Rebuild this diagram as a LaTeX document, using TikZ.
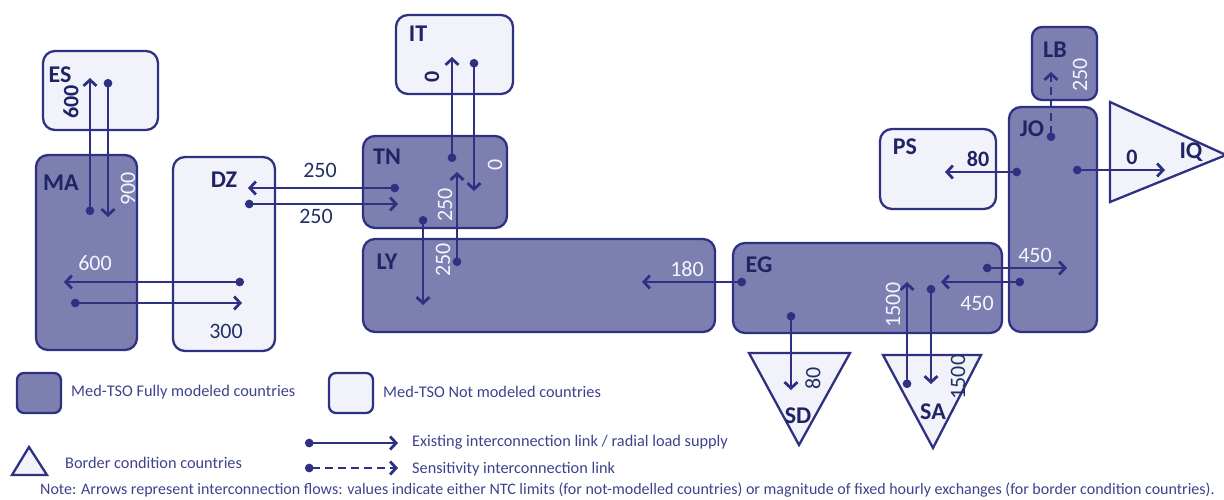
\documentclass[tikz,border=0pt]{standalone}
\usepackage{fontspec}
\setmainfont{Carlito}
\usetikzlibrary{arrows.meta}
\definecolor{navy}{RGB}{46,48,130}
\definecolor{darkfill}{RGB}{124,127,176}
\definecolor{lightfill}{RGB}{242,243,250}
\definecolor{lbl}{RGB}{32,35,100}
\definecolor{numdark}{RGB}{35,48,100}
\definecolor{numwhite}{RGB}{245,245,252}
\definecolor{legtext}{RGB}{62,66,140}
\begin{document}
\begin{tikzpicture}[x=1pt,y=-1pt,
  fullbox/.style={draw=navy, line width=2.3pt, fill=darkfill, rounded corners=12pt, inner sep=0pt},
  notbox/.style={draw=navy, line width=2.3pt, fill=lightfill, rounded corners=12pt, inner sep=0pt},
  border/.style={draw=navy, line width=2.3pt, fill=lightfill, line join=miter},
  cname/.style={font=\fontsize{24}{26}\selectfont\bfseries, text=lbl, inner sep=0pt},
  wnum/.style={font=\fontsize{22}{24}\selectfont, text=numwhite, inner sep=0pt},
  dnum/.style={font=\fontsize{22}{24}\selectfont, text=numdark, inner sep=0pt},
  bnum/.style={font=\fontsize{22}{24}\selectfont\bfseries, text=lbl, inner sep=0pt},
  link/.style={draw=navy, line width=2.8pt, {Circle[length=8.5pt]}-{Straight Barb[length=6pt,width=13pt,line width=2.8pt]}},
  senslink/.style={link, dash pattern=on 8pt off 5pt},
  legtxt/.style={font=\fontsize{16.3}{18}\selectfont, text=legtext, inner sep=0pt, anchor=west},
  notetxt/.style={font=\fontsize{16}{18}\selectfont, text=legtext, inner sep=0pt, anchor=west}
]
\useasboundingbox (0,0) rectangle (1224,499);

% ---------- boxes ----------
\node[notbox, minimum width=115pt, minimum height=79pt] (ES) at (100.5,90.5) {};
\node[fullbox, minimum width=101pt, minimum height=195pt] (MA) at (86.5,252.5) {};
\node[notbox, minimum width=102pt, minimum height=194pt] (DZ) at (224,254) {};
\node[notbox, minimum width=117pt, minimum height=79pt] (IT) at (454.5,54.5) {};
\node[fullbox, minimum width=144pt, minimum height=92pt] (TN) at (435,182) {};
\node[fullbox, minimum width=352pt, minimum height=93pt] (LY) at (539,285.5) {};
\node[fullbox, minimum width=269pt, minimum height=90pt] (EG) at (867.5,288) {};
\node[fullbox, minimum width=88pt, minimum height=225pt] (JO) at (1053,219.5) {};
\node[fullbox, minimum width=65pt, minimum height=73pt, rounded corners=10pt] (LB) at (1064.5,63.5) {};
\node[notbox, minimum width=116pt, minimum height=80pt] (PS) at (938,169) {};

% ---------- border condition triangles ----------
\draw[border] (1110,102) -- (1226,155) -- (1110,202) -- cycle;
\draw[border] (749,353) -- (850,353) -- (799,445) -- cycle;
\draw[border] (883,355) -- (981,355) -- (933,448) -- cycle;

% ---------- country names ----------
\node[cname] (ESl) at (60,75) {ES};
\node[cname] (MAl) at (61,183) {MA};
\node[cname] (DZl) at (224,180) {DZ};
\node[cname] (ITl) at (418,34) {IT};
\node[cname] (TNl) at (387,157) {TN};
\node[cname] (LYl) at (387,262) {LY};
\node[cname] (EGl) at (759,265) {EG};
\node[cname] (JOl) at (1032,129) {JO};
\node[cname] (LBl) at (1055,50) {LB};
\node[cname] (PSl) at (905,147) {PS};
\node[cname] (IQl) at (1191,152) {IQ};
\node[cname] (SDl) at (798,416) {SD};
\node[cname] (SAl) at (933,412) {SA};

% ---------- connector end points ----------
\coordinate (maES) at (90,215);   \coordinate (esTip) at (90,78);
\coordinate (esMA) at (108,79);   \coordinate (maTip) at (108,217);
\coordinate (tnDZ) at (399,188);  \coordinate (dzTip) at (248,188);
\coordinate (dzTN) at (245,204);  \coordinate (tnTip) at (398,204);
\coordinate (dzMA) at (244,282);  \coordinate (maTip2) at (64,282);
\coordinate (maDZ) at (71,303);   \coordinate (dzTip2) at (242,303);
\coordinate (tnIT) at (452,162);  \coordinate (itTip) at (452,57);
\coordinate (itTN) at (474,59);   \coordinate (tnTip2) at (474,191);
\coordinate (tnLY) at (423,216);  \coordinate (lyTip) at (423,305);
\coordinate (lyTN) at (457,266);  \coordinate (tnTip3) at (457,172);
\coordinate (egLY) at (746,282);  \coordinate (lyTip2) at (642,282);
\coordinate (joLB) at (1051,141); \coordinate (lbTip) at (1051,72);
\coordinate (joPS) at (1021,172); \coordinate (psTip) at (945,172);
\coordinate (joIQ) at (1073,170); \coordinate (iqTip) at (1165,170);
\coordinate (egJO) at (983,268);  \coordinate (joTip) at (1067,268);
\coordinate (joEG) at (1024,282); \coordinate (egTip) at (941,282);
\coordinate (saEG) at (907,388);  \coordinate (egTip2) at (907,282);
\coordinate (egSA) at (931,285);  \coordinate (saTip) at (931,384);
\coordinate (egSD) at (791,312);  \coordinate (sdTip) at (791,390);

% ---------- connectors ----------
\draw[link] (maES) -- (esTip);
\draw[link] (esMA) -- (maTip);
\draw[link] (tnDZ) -- (dzTip);
\draw[link] (dzTN) -- (tnTip);
\draw[link] (dzMA) -- (maTip2);
\draw[link] (maDZ) -- (dzTip2);
\draw[link] (tnIT) -- (itTip);
\draw[link] (itTN) -- (tnTip2);
\draw[link] (tnLY) -- (lyTip);
\draw[link] (lyTN) -- (tnTip3);
\draw[link] (egLY) -- (lyTip2);
\draw[senslink] (joLB) -- (lbTip);
\draw[link] (joPS) -- (psTip);
\draw[link] (joIQ) -- (iqTip);
\draw[link] (egJO) -- (joTip);
\draw[link] (joEG) -- (egTip);
\draw[link] (saEG) -- (egTip2);
\draw[link] (egSA) -- (saTip);
\draw[link] (egSD) -- (sdTip);

% ---------- values ----------
\node[bnum, rotate=90] (v1) at (71,102) {600};
\node[wnum, rotate=90] (v2) at (128,189) {900};
\node[dnum] (v3) at (320,170) {250};
\node[dnum] (v4) at (316,216) {250};
\node[wnum] (v5) at (95,263) {600};
\node[dnum] (v6) at (226,331) {300};
\node[bnum, rotate=90] (v7) at (432,77) {0};
\node[wnum, rotate=90] (v8) at (495,165) {0};
\node[wnum, rotate=90] (v9) at (445,205) {250};
\node[wnum, rotate=90] (v10) at (443,260) {250};
\node[wnum] (v11) at (687,269) {180};
\node[wnum, rotate=90] (v12) at (1080,75) {250};
\node[bnum] (v13) at (978,159) {80};
\node[bnum] (v14) at (1132,157) {0};
\node[wnum] (v15) at (1035,255) {450};
\node[wnum] (v16) at (977,303) {450};
\node[wnum, rotate=90] (v17) at (893,305) {1500};
\node[dnum, rotate=90] (v18) at (813,378) {80};
\node[dnum, rotate=90] (v19) at (958,377) {1500};

% ---------- legend ----------
\node[fullbox, rounded corners=7pt, minimum width=44pt, minimum height=40pt] (legfull) at (39,393) {};
\node[legtxt] (legfullt) at (71,392) {Med-TSO Fully modeled countries};
\node[notbox, rounded corners=7pt, minimum width=44pt, minimum height=40pt] (legnot) at (351,393) {};
\node[legtxt] (legnott) at (383,392) {Med-TSO Not modeled countries};
\draw[border] (29,447) -- (47,475) -- (12,475) -- cycle;
\node[legtxt] (legbordt) at (65,463) {Border condition countries};
\coordinate (legLs) at (305,443); \coordinate (legLe) at (398,443);
\coordinate (legSs) at (305,468); \coordinate (legSe) at (398,468);
\draw[link] (legLs) -- (legLe);
\draw[senslink] (legSs) -- (legSe);
\node[legtxt] (leglinkt) at (412,442) {Existing interconnection link / radial load supply};
\node[legtxt] (legsenst) at (412,469) {Sensitivity interconnection link};
\node[notetxt] (note) at (40,490) {Note: Arrows represent interconnection flows: values indicate either NTC limits (for not-modelled countries) or magnitude of fixed hourly exchanges (for border condition countries).};
\end{tikzpicture}
\end{document}
